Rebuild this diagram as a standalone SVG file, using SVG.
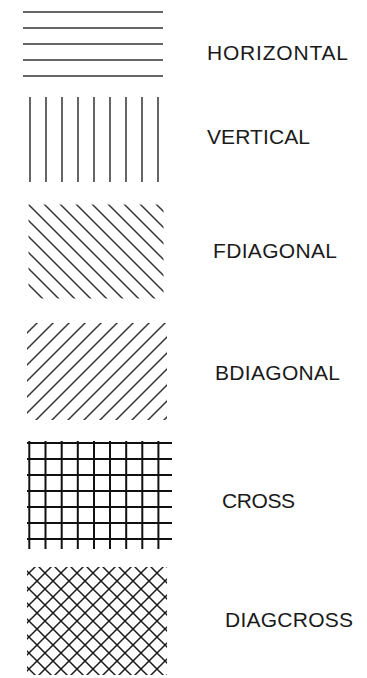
<svg xmlns="http://www.w3.org/2000/svg" width="367" height="678" viewBox="0 0 367 678">
<style>
.ln{stroke:#333;stroke-width:1.5;fill:none}
.cr{stroke:#111;stroke-width:2;fill:none}
.lbl{font-family:"Liberation Sans",Arial,sans-serif;font-size:21px;fill:#1a1a1a}
</style>
<defs>
<pattern id="pf" patternUnits="userSpaceOnUse" x="0" y="0" width="16" height="16">
<path d="M-2,-2 L18,18 M14,-2 L18,2 M-2,14 L2,18" stroke="#333" stroke-width="1.5" fill="none"/>
</pattern>
<pattern id="pb" patternUnits="userSpaceOnUse" x="0" y="8" width="16" height="16">
<path d="M-2,18 L18,-2 M-2,2 L2,-2 M14,18 L18,14" stroke="#333" stroke-width="1.5" fill="none"/>
</pattern>
<pattern id="xf" patternUnits="userSpaceOnUse" x="0" y="0" width="16" height="16">
<path d="M-2,-2 L18,18 M14,-2 L18,2 M-2,14 L2,18" stroke="#1a1a1a" stroke-width="1.5" fill="none"/>
</pattern>
<pattern id="xb" patternUnits="userSpaceOnUse" x="0" y="10" width="16" height="16">
<path d="M-2,18 L18,-2 M-2,2 L2,-2 M14,18 L18,14" stroke="#1a1a1a" stroke-width="1.5" fill="none"/>
</pattern>
</defs>
<rect width="367" height="678" fill="#fff"/>
<g id="horizontal">
<path class="ln" d="M23,12H163M23,28H163M23,44H163M23,60H163M23,76H163"/>
<text class="lbl" x="207" y="60" textLength="141" lengthAdjust="spacing">HORIZONTAL</text>
</g>
<g id="vertical">
<path class="ln" d="M30,97V182M46,97V182M62,97V182M78,97V182M94,97V182M110,97V182M126,97V182M142,97V182M158,97V182"/>
<text class="lbl" x="207" y="144" textLength="103" lengthAdjust="spacing">VERTICAL</text>
</g>
<g id="fdiagonal">
<rect x="28.5" y="204.5" width="135" height="94" fill="url(#pf)"/>
<text class="lbl" x="213" y="258" textLength="124" lengthAdjust="spacing">FDIAGONAL</text>
</g>
<g id="bdiagonal">
<rect x="27" y="323" width="140" height="97" fill="url(#pb)"/>
<text class="lbl" x="215" y="380" textLength="125" lengthAdjust="spacing">BDIAGONAL</text>
</g>
<g id="cross">
<path class="cr" d="M27,443H172M27,459H172M27,475H172M27,491H172M27,507H172M27,523H172M27,539H172"/>
<path class="cr" d="M29.3,441V549M45.5,441V549M61.7,441V549M77.8,441V549M94,441V549M110,441V549M126.2,441V549M142.3,441V549M158.4,441V549"/>
<text class="lbl" x="222" y="508" textLength="73" lengthAdjust="spacing">CROSS</text>
</g>
<g id="diagcross">
<rect x="27" y="567" width="140" height="108" fill="url(#xf)"/>
<rect x="27" y="567" width="140" height="108" fill="url(#xb)"/>
<text class="lbl" x="225" y="627" textLength="128" lengthAdjust="spacing">DIAGCROSS</text>
</g>
</svg>
